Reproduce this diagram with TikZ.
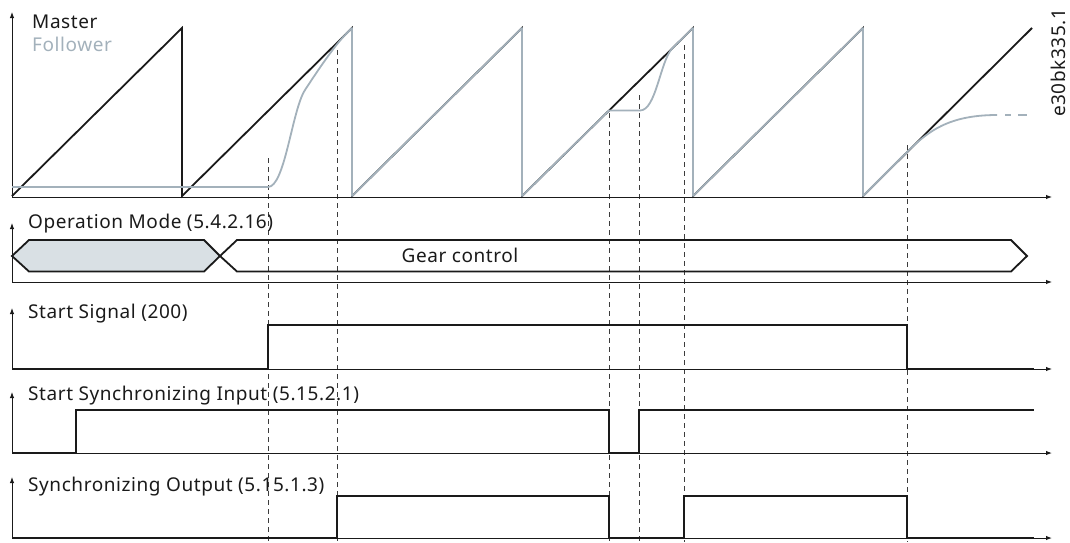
\documentclass[tikz,border=0pt]{standalone}
\usepackage{fontspec}
\setmainfont{Noto Sans}
\newfontfamily\lblfont[LetterSpace=3]{Noto Sans}
\usetikzlibrary{arrows.meta}
\definecolor{follow}{HTML}{A3B1BB}
\definecolor{modefill}{HTML}{D9E0E4}
\definecolor{ink}{HTML}{1A1A1A}
\tikzset{
  axis/.style={line width=1pt, ink, -{Latex[length=6pt,width=4.5pt]}},
  master/.style={line width=1.8pt, ink, line join=miter},
  followline/.style={line width=1.8pt, follow, line join=round},
  sig/.style={line width=1.8pt, ink, line join=miter},
  guide/.style={line width=0.9pt, ink!85, dash pattern=on 5pt off 4pt},
  lbl/.style={anchor=base west, inner sep=0pt, font=\lblfont\fontsize{19}{22}\selectfont, text=ink},
  modebox/.style={line width=1.8pt, ink, line join=miter},
}
\begin{document}
\begin{tikzpicture}[x=1pt,y=-1pt]
\useasboundingbox (0,0) rectangle (1070,542);

% guide lines
\draw[guide] (268,158) -- (268,542);
\draw[guide] (337,50) -- (337,542);
\draw[guide] (609,113) -- (609,542);
\draw[guide] (639,95) -- (639,542);
\draw[guide] (684,45) -- (684,542);
\draw[guide] (907,145) -- (907,542);

% top plot axes
\draw[axis] (12,197) -- (12,12);
\draw[axis] (12,197) -- (1052,197);

% master sawtooth
\draw[master] (12,196) -- (182,28) -- (182,196) -- (352,28) -- (352,196) -- (522,28) -- (522,196) -- (693,28) -- (693,196) -- (863,28) -- (863,196) -- (1032,28);

% follower
\draw[followline] (12,187) -- (268,187) .. controls (285,187) and (292,110) .. (305,90) .. controls (318,70) and (335,45) .. (346,34) -- (352,28) -- (352,196) -- (522,28) -- (522,196) -- (609,110.5) -- (640,110.5) .. controls (656,110.5) and (660,62) .. (672,48.6) -- (693,28) -- (693,196) -- (863,28) -- (863,196) -- (903,156) .. controls (925,134) and (945,115) .. (997,115);
\draw[followline] (1005,115) -- (1011,115);
\draw[followline] (1018,115) -- (1027,115);

\node[lbl] (mlab) at (32,28) {Master};
\node[lbl, text=follow] (flab) at (32,51) {Follower};
\node[lbl, rotate=90] (ref) at (1065,117) {e30bk335.1};

% operation mode
\draw[axis] (12,282) -- (12,223);
\draw[axis] (12,282) -- (1052,282);
\draw[modebox, fill=modefill] (12,256) -- (29,240) -- (204,240) -- (220,256) -- (204,271.5) -- (29,271.5) -- cycle;
\draw[modebox] (220,256) -- (237,240) -- (1011,240) -- (1027,256) -- (1011,271.5) -- (237,271.5) -- cycle;
\node[lbl] (oplab) at (28,228) {Operation Mode (5.4.2.16)};
\node[lbl, anchor=base] (gear) at (460,262) {Gear control};

% start signal
\draw[axis] (12,369) -- (12,308);
\draw[axis] (12,369) -- (1052,369);
\draw[sig] (12,369) -- (268,369) -- (268,325) -- (907,325) -- (907,369) -- (1034,369);
\node[lbl] (sslab) at (28,318) {Start Signal (200)};

% start synchronizing input
\draw[axis] (12,453) -- (12,392);
\draw[axis] (12,453) -- (1052,453);
\draw[sig] (12,453) -- (76,453) -- (76,410) -- (609,410) -- (609,453) -- (639,453) -- (639,410) -- (1034,410);
\node[lbl] (silab) at (28,400) {Start Synchronizing Input (5.15.2.1)};

% synchronizing output
\draw[axis] (12,538) -- (12,477);
\draw[axis] (12,538) -- (1052,538);
\draw[sig] (12,538) -- (337,538) -- (337,496) -- (609,496) -- (609,538) -- (684,538) -- (684,496) -- (907,496) -- (907,538) -- (1034,538);
\node[lbl] (solab) at (28,491) {Synchronizing Output (5.15.1.3)};
\end{tikzpicture}
\end{document}
